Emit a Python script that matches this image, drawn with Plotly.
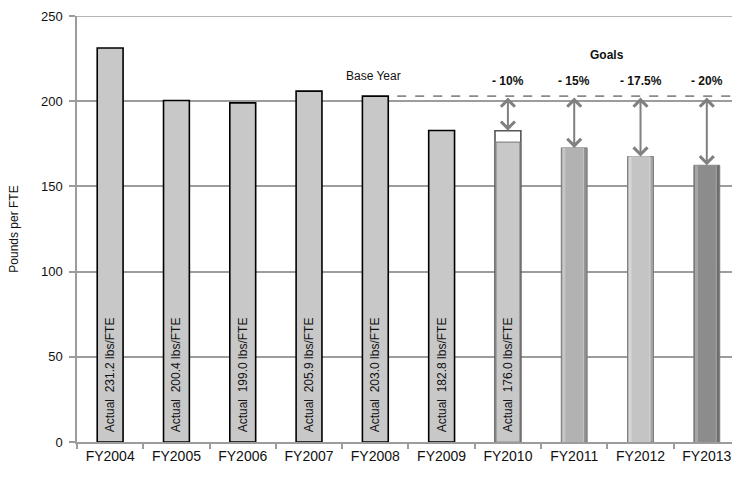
import plotly.graph_objects as go

# Fiscal years shown on the category axis
years = ["FY2004", "FY2005", "FY2006", "FY2007", "FY2008",
         "FY2009", "FY2010", "FY2011", "FY2012", "FY2013"]

# Measured pounds per FTE, FY2004-FY2010
actual_years = ["FY2004", "FY2005", "FY2006", "FY2007", "FY2008", "FY2009", "FY2010"]
actual_values = [231.2, 200.4, 199.0, 205.9, 203.0, 182.8, 176.0]

# Base year and reduction goals
base_year = "FY2008"
base_value = 203.0
goal_years = ["FY2010", "FY2011", "FY2012", "FY2013"]
goal_values = [182.7, 172.6, 167.5, 162.4]
goal_labels = ["- 10%", "- 15%", "- 17.5%", "- 20%"]

# Value axis
y_max = 250
y_step = 50

FONT = "Liberation Sans, Arial, sans-serif"
NB = "\u00a0"
BAR_W = 0.39
X_END = 9.38
GRID = "#9c9c9c"


def bar_label(v):
    return f"{NB}{NB}Actual{NB}{NB}{v:.1f}{NB}lbs/FTE"


fig = go.Figure()

# Actual bars up to FY2009 (black outline)
hist_x = actual_years[:-1]
hist_y = actual_values[:-1]
fig.add_trace(go.Bar(
    x=hist_x, y=hist_y, width=BAR_W,
    marker=dict(color="#c8c8c8", line=dict(color="#000000", width=1.6)),
    text=[bar_label(v) for v in hist_y],
    textposition="inside", insidetextanchor="start", textangle=-90,
    textfont=dict(family=FONT, size=12, color="#111111"),
    constraintext="none", hoverinfo="skip",
))

# FY2010: goal outline with the actual value drawn inside
fig.add_trace(go.Bar(
    x=[goal_years[0]], y=[goal_values[0]], width=BAR_W,
    marker=dict(color="#ffffff", line=dict(color="#555555", width=1.6)),
    hoverinfo="skip",
))
fig.add_trace(go.Bar(
    x=[actual_years[-1]], y=[actual_values[-1]], width=BAR_W - 0.03,
    marker=dict(color="#c8c8c8", line=dict(color="#8a8a8a", width=1.2)),
    text=[bar_label(actual_values[-1])],
    textposition="inside", insidetextanchor="start", textangle=-90,
    textfont=dict(family=FONT, size=12, color="#111111"),
    constraintext="none", hoverinfo="skip",
))

# Future goal bars with a bevelled look: darker shell, light left rim, core
shell_colors = ["#8e8e8e", "#a4a4a4", "#6e6e6e"]
rim_colors = ["#c6c6c6", "#d6d6d6", "#a8a8a8"]
core_colors = ["#b2b2b2", "#c4c4c4", "#8c8c8c"]
fig.add_trace(go.Bar(
    x=goal_years[1:], y=goal_values[1:], width=BAR_W,
    marker=dict(color=shell_colors, line=dict(color="#7a7a7a", width=1)),
    hoverinfo="skip",
))
fig.add_trace(go.Bar(
    x=goal_years[1:], y=goal_values[1:], width=BAR_W - 0.06, offset=-(BAR_W / 2) + 0.015,
    marker=dict(color=rim_colors, line=dict(width=0)),
    hoverinfo="skip",
))
fig.add_trace(go.Bar(
    x=goal_years[1:], y=goal_values[1:], width=BAR_W - 0.12,
    marker=dict(color=core_colors, line=dict(width=0)),
    hoverinfo="skip",
))

# Top border gridline at the axis maximum
fig.add_shape(type="line", xref="paper", yref="y", x0=0, x1=1,
              y0=y_max, y1=y_max, line=dict(color=GRID, width=1.5))

# Base-year reference line
base_idx = years.index(base_year)
fig.add_shape(type="line", xref="x", yref="y",
              x0=base_idx + 0.33, x1=X_END, y0=base_value, y1=base_value,
              line=dict(color="#8a8a8a", width=1.6, dash="dash"))

annotations = []
# Double-headed arrows from base line to each goal
for gy, gv, gl in zip(goal_years, goal_values, goal_labels):
    annotations.append(dict(
        x=gy, y=gv, ax=gy, ay=base_value, xref="x", yref="y",
        axref="x", ayref="y", text="", showarrow=True,
        arrowhead=4, startarrowhead=4, arrowside="end+start",
        arrowsize=1.35, startarrowsize=1.35,
        arrowwidth=2, arrowcolor="#808080", standoff=0, startstandoff=0,
    ))
    annotations.append(dict(
        x=gy, y=base_value, xref="x", yref="y", text=f"<b>{gl}</b>",
        showarrow=False, yanchor="bottom", yshift=6,
        font=dict(family=FONT, size=12, color="#111111"),
    ))

annotations.append(dict(
    x=base_year, y=base_value, xref="x", yref="y", text="Base Year",
    showarrow=False, yanchor="bottom", yshift=11, xshift=-2,
    font=dict(family=FONT, size=12, color="#111111"),
))
annotations.append(dict(
    x=(years.index(goal_years[1]) + years.index(goal_years[2])) / 2,
    y=base_value, xref="x", yref="y", text="<b>Goals</b>",
    showarrow=False, yanchor="bottom", yshift=32,
    font=dict(family=FONT, size=12, color="#111111"),
))

fig.update_layout(
    width=732, height=481,
    margin=dict(l=77, r=0, t=16, b=38.5),
    paper_bgcolor="#ffffff", plot_bgcolor="#ffffff",
    barmode="overlay", showlegend=False,
    font=dict(family=FONT, color="#111111"),
    annotations=annotations,
    xaxis=dict(
        type="category", categoryorder="array", categoryarray=years,
        range=[-0.5, X_END], showgrid=False,
        showline=True, linecolor=GRID, linewidth=1.5,
        ticks="outside", tickson="boundaries", ticklen=5,
        tickcolor=GRID, tickwidth=1.5,
        tickfont=dict(family=FONT, size=14, color="#111111"),
        zeroline=False,
    ),
    yaxis=dict(
        range=[0, y_max], dtick=y_step, showgrid=True,
        gridcolor=GRID, gridwidth=1.5,
        showline=True, linecolor=GRID, linewidth=1.5,
        ticks="outside", ticklen=6, tickcolor=GRID, tickwidth=1.5,
        ticklabelstandoff=4,
        tickfont=dict(family=FONT, size=13, color="#111111"),
        zeroline=False,
        title=dict(text="Pounds per FTE", standoff=20,
                   font=dict(family=FONT, size=12, color="#111111")),
    ),
)

fig.write_html("out.html")
